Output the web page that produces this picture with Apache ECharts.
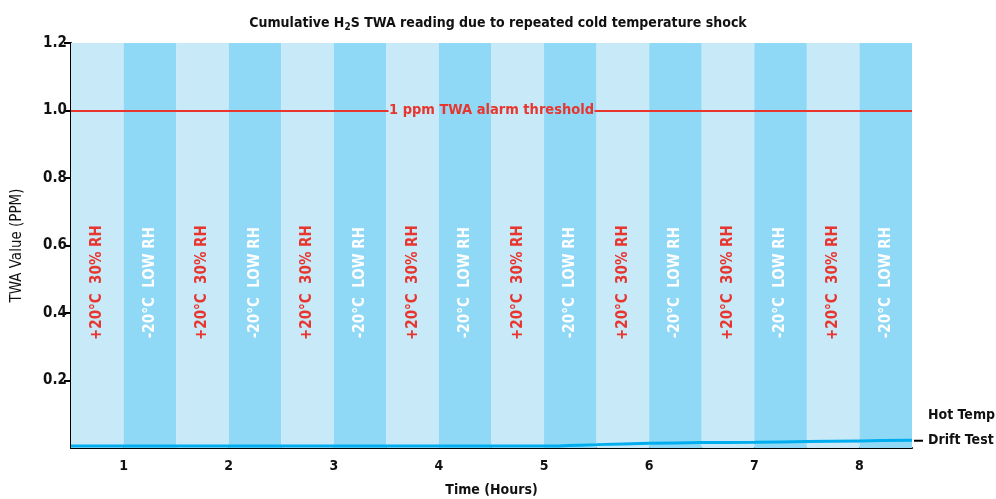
<!DOCTYPE html>
<html>
<head>
<meta charset="utf-8">
<script src="https://cdn.jsdelivr.net/npm/echarts@6/dist/echarts.min.js"></script>
<style>
  html, body { margin: 0; padding: 0; background: #fff; }
  #chart { width: 996px; height: 499px; }
</style>
</head>
<body>
<div id="chart"></div>
<script>
// hour labels on the x axis
const hourLabels = ["1", "2", "3", "4", "5", "6", "7", "8"];
// y tick values that carry a label / tick mark
const yTickValues = [0.2, 0.4, 0.6, 0.8, 1.0, 1.2];
// each hour: warm humid half, then cold dry half
const stripeTexts = ["+20°C  30% RH", "-20°C  LOW RH"];
// drift test readings (hours, ppm)
const driftTime = [0, 0.5, 1, 1.5, 2, 2.5, 3, 3.5, 4, 4.5, 5, 5.5, 6, 6.5, 7, 7.5, 8];
const driftValue = [0.006, 0.006, 0.006, 0.006, 0.006, 0.006, 0.006, 0.006, 0.006, 0.006, 0.010, 0.014, 0.016, 0.017, 0.019, 0.021, 0.023];
const alarmThreshold = 1.0;
const alarmText = "1 ppm TWA alarm threshold";
const stripeLabelLevel = 0.49;

const FONT = "'DejaVu Sans Condensed', 'Roboto', sans-serif";
const RED = "#e8352e";
const stripeColors = ["#c7e9f8", "#8fd8f6"];
const stripeTextColors = [RED, "#ffffff"];

let chart = echarts.init(document.getElementById("chart"));

let areas = [];
let stripeLabelData = [];
for (let h = 0; h < hourLabels.length; h++) {
  for (let k = 0; k < 2; k++) {
    let x0 = h + k * 0.5;
    areas.push([
      { xAxis: x0, itemStyle: { color: stripeColors[k] } },
      { xAxis: x0 + 0.5 }
    ]);
    stripeLabelData.push({
      value: [x0 + 0.25, stripeLabelLevel],
      label: { formatter: stripeTexts[k], color: stripeTextColors[k] }
    });
  }
}

let option = {
  animation: false,
  title: {
    text: "Cumulative H{sub|2}S TWA reading due to repeated cold temperature shock",
    left: "center",
    top: 9,
    textStyle: {
      fontFamily: FONT,
      fontSize: 14,
      fontWeight: "bold",
      color: "#111",
      rich: {
        sub: { fontFamily: FONT, fontSize: 10, fontWeight: "bold", color: "#111", verticalAlign: "bottom", padding: [8, 0, 0, 0] }
      }
    }
  },
  grid: { left: 71, right: 84, top: 43, bottom: 51, outerBoundsMode: "none" },
  xAxis: {
    type: "value",
    min: 0,
    max: hourLabels.length,
    interval: 0.5,
    name: "Time (Hours)",
    nameLocation: "middle",
    nameGap: 35,
    nameTextStyle: { fontFamily: FONT, fontSize: 14, fontWeight: "bold", color: "#111" },
    axisLine: { lineStyle: { color: "#000", width: 2 } },
    axisTick: { show: false },
    splitLine: { show: false },
    axisLabel: {
      margin: 11,
      fontFamily: FONT,
      fontSize: 14,
      fontWeight: "bold",
      color: "#111",
      formatter: function (v) {
        let i = v - 0.5;
        if (Math.abs(i - Math.round(i)) < 1e-6) return hourLabels[Math.round(i)] || "";
        return "";
      }
    }
  },
  yAxis: {
    type: "value",
    min: 0,
    max: 1.2,
    interval: 0.2,
    name: "TWA Value (PPM)",
    nameLocation: "middle",
    nameGap: 46,
    nameTextStyle: { fontFamily: FONT, fontSize: 15, color: "#111" },
    axisLine: { show: true, lineStyle: { color: "#000", width: 2 } },
    axisTick: { show: true, length: 7, customValues: yTickValues, lineStyle: { color: "#000", width: 2 } },
    splitLine: { show: false },
    axisLabel: {
      margin: 4,
      customValues: yTickValues,
      fontFamily: FONT,
      fontSize: 15,
      fontWeight: "bold",
      color: "#111",
      formatter: function (v) { return v.toFixed(1); }
    }
  },
  series: [
    {
      name: "stripes",
      type: "line",
      data: [],
      silent: true,
      markArea: { silent: true, data: areas }
    },
    {
      name: "threshold",
      type: "line",
      data: [],
      silent: true,
      markLine: {
        silent: true,
        symbol: "none",
        label: { show: false },
        lineStyle: { color: RED, width: 2, type: "solid", opacity: 1 },
        emphasis: { disabled: true },
        data: [
          [{ coord: [0, alarmThreshold] }, { coord: [3.02, alarmThreshold] }],
          [{ coord: [4.98, alarmThreshold] }, { coord: [hourLabels.length, alarmThreshold] }]
        ]
      }
    },
    {
      name: "thresholdLabel",
      type: "scatter",
      symbolSize: 0,
      silent: true,
      itemStyle: { opacity: 1 },
      data: [[4, alarmThreshold]],
      label: {
        show: true,
        position: "inside",
        formatter: alarmText,
        fontFamily: FONT,
        fontSize: 14.5,
        fontWeight: "bold",
        color: RED,
        opacity: 1,
        textBorderWidth: 0
      }
    },
    {
      name: "stripeLabels",
      type: "scatter",
      symbolSize: 0,
      silent: true,
      itemStyle: { opacity: 1 },
      data: stripeLabelData,
      label: {
        show: true,
        position: "inside",
        rotate: 90,
        fontFamily: FONT,
        fontSize: 15,
        fontWeight: "bold",
        opacity: 1,
        textBorderWidth: 0
      }
    },
    {
      name: "Hot Temp Drift Test",
      type: "line",
      data: driftTime.map((t, i) => [t, driftValue[i]]),
      symbol: "none",
      smooth: 0.3,
      lineStyle: { color: "#00aeef", width: 3 },
      z: 5,
      endLabel: {
        show: true,
        distance: 2,
        offset: [0, -12],
        formatter: "{s|}{t|Hot Temp}\n{d|}{g|}{t|Drift Test}",
        rich: {
          s: { width: 14 },
          d: { width: 9, height: 2, backgroundColor: "#000" },
          g: { width: 5 },
          t: { fontFamily: FONT, fontSize: 14, fontWeight: "bold", color: "#111", lineHeight: 25 }
        }
      }
    }
  ]
};

chart.setOption(option);
</script>
</body>
</html>
